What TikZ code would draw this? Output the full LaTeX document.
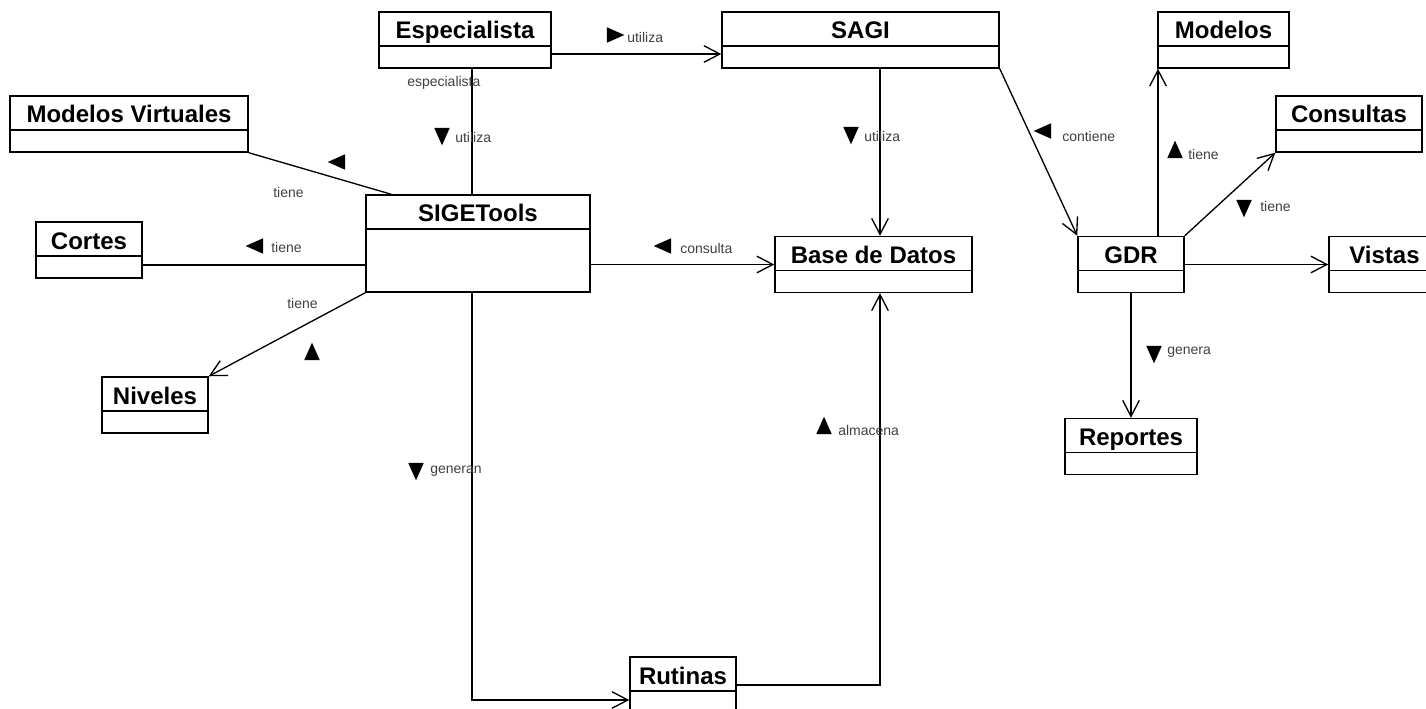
\documentclass[tikz,border=0pt]{standalone}
\usepackage{fontspec}
\setmainfont{Liberation Sans}
\usepackage{tikz}
\usetikzlibrary{arrows.meta,positioning,shapes.geometric,calc}
\tikzset{
umlclass/.style={rectangle,draw,line width=1.1pt,inner xsep=0pt,inner ysep=0pt,align=center,
  font=\bfseries\fontsize{18pt}{20pt}\selectfont,text height=20.25pt,text depth=21.75pt,
  path picture={\draw[line width=1.1pt] ($(path picture bounding box.north west)+(0,-25.5pt)$)
    -- ($(path picture bounding box.north east)+(0,-25.5pt)$);}},
umlassoc/.style={line width=1pt},
umlnav/.style={umlassoc,-{Straight Barb[length=12pt,width=12.5pt,line width=1pt]}},
umllbl/.style={font=\fontsize{10.5pt}{12pt}\selectfont,text=black!75,inner sep=0pt,anchor=west},
umltri/.style={isosceles triangle,isosceles triangle apex angle=48,fill=black,inner sep=0pt,minimum height=13pt}
}

\begin{document}
\begin{tikzpicture}[x=0.75pt,y=-0.75pt]
\useasboundingbox (0,0) rectangle (1426,709);
% classes
\node[umlclass,minimum width=129pt] (esp) at (465,40) {Especialista};
\node[umlclass,minimum width=207.75pt] (sagi) at (860.5,40) {SAGI};
\node[umlclass,minimum width=98.25pt] (modelos) at (1223.5,40) {Modelos};
\node[umlclass,minimum width=178.5pt] (mv) at (129,124) {Modelos Virtuales};
\node[umlclass,minimum width=109.5pt] (consultas) at (1349,124) {Consultas};
\node[umlclass,minimum width=168pt,text depth=52.5pt] (sige) at (478,243.5) {SIGETools};
\node[umlclass,minimum width=79.5pt] (cortes) at (89,250) {Cortes};
\node[umlclass,minimum width=147.75pt] (bd) at (873.5,264.5) {Base de Datos};
\node[umlclass,minimum width=79.5pt] (gdr) at (1131,264.5) {GDR};
\node[umlclass,minimum width=83.25pt] (vistas) at (1384.5,264.5) {Vistas};
\node[umlclass,minimum width=79.5pt] (niveles) at (155,405) {Niveles};
\node[umlclass,minimum width=99pt] (reportes) at (1131,446.5) {Reportes};
\node[umlclass,minimum width=79.5pt] (rutinas) at (683,685) {Rutinas};

% associations
\draw[umlnav] ([yshift=-10.5pt]esp.east) -- ([yshift=-10.5pt]esp.east -| sagi.west);
\draw[umlassoc] ([xshift=5.25pt]esp.south) -- ([xshift=5.25pt]esp.south |- sige.north);
\draw[umlassoc] (mv.south east) -- ([xshift=19.5pt]sige.north west);
\draw[umlassoc] ([yshift=-11.25pt]cortes.east) -- ([yshift=-11.25pt]cortes.east -| sige.west);
\draw[umlnav] (sige.south west) -- (niveles.north east);
\draw[umlnav] (sige.east |- bd.west) -- (bd.west);
\draw[umlnav] ([xshift=-4.5pt]sige.south) |- ([yshift=-11.25pt]rutinas.west);
\draw[umlnav] (rutinas.east) -| ([xshift=4.875pt]bd.south);
\draw[umlnav] ([xshift=4.875pt]bd.north |- sagi.south) -- ([xshift=4.875pt]bd.north);
\draw[umlnav] (sagi.south east) -- (gdr.north west);
\draw[umlnav] ([xshift=20.25pt]gdr.north) -- ([xshift=20.25pt]gdr.north |- modelos.south);
\draw[umlnav] (gdr.north east) -- (consultas.south west);
\draw[umlnav] (gdr.east) -- (vistas.west);
\draw[umlnav] (gdr.south) -- (reportes.north);

% role names and reading directions
\node[umltri,shape border rotate=0] (t1) at (612,35) {};
\node[umllbl] (l1) at (627,37) {utiliza};
\node[umllbl] (l2) at (407,83) {especialista};
\node[umltri,shape border rotate=270] (t3) at (442,133) {};
\node[umllbl] (l3) at (455,137) {utiliza};
\node[umltri,shape border rotate=164] (t4) at (340,162) {};
\node[umllbl] (l4) at (273,192) {tiene};
\node[umltri,shape border rotate=180] (t5) at (258,246) {};
\node[umllbl] (l5) at (271,247) {tiene};
\node[umllbl] (l6) at (287,303) {tiene};
\node[umltri,shape border rotate=92] (t6) at (312,355) {};
\node[umltri,shape border rotate=180] (t7) at (666,246) {};
\node[umllbl] (l7) at (680,248) {consulta};
\node[umltri,shape border rotate=270] (t8) at (416,468) {};
\node[umllbl] (l8) at (430,471) {generan};
\node[umltri,shape border rotate=90] (t9) at (824,429) {};
\node[umllbl] (l9) at (838,430) {almacena};
\node[umltri,shape border rotate=270] (t10) at (851,132) {};
\node[umllbl] (l10) at (864,136) {utiliza};
\node[umltri,shape border rotate=160] (t11) at (1046,131) {};
\node[umllbl] (l11) at (1062,136) {contiene};
\node[umltri,shape border rotate=90] (t12) at (1175,153) {};
\node[umllbl] (l12) at (1188,154) {tiene};
\node[umltri,shape border rotate=285] (t13) at (1244,205) {};
\node[umllbl] (l13) at (1260,206) {tiene};
\node[umltri,shape border rotate=270] (t14) at (1154,351) {};
\node[umllbl] (l14) at (1167,352) {genera};
\end{tikzpicture}
\end{document}
